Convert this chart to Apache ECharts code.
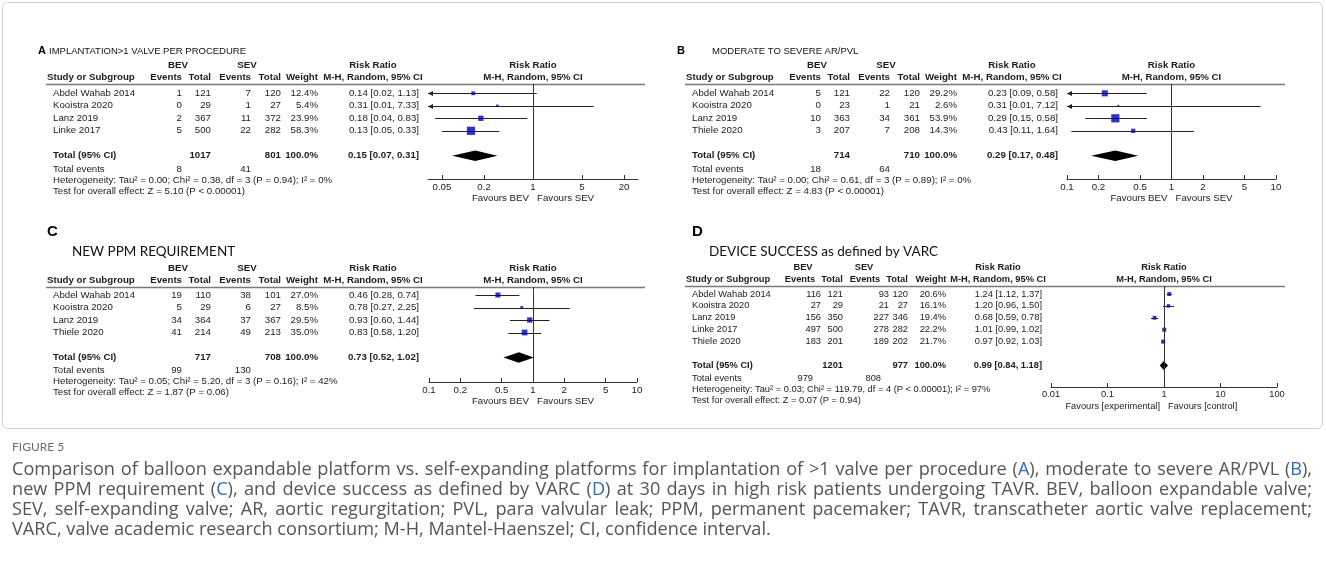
<!DOCTYPE html>
<html>
<head>
<meta charset="utf-8">
<title>Figure 5 - BEV vs SEV forest plots</title>
<script src="https://cdn.jsdelivr.net/npm/echarts@6/dist/echarts.min.js"></script>
<style>
  html, body { margin: 0; padding: 0; background: #fff; }
  #chart { width: 1326px; height: 574px; }
</style>
</head>
<body>
<div id="chart"></div>
<script>
// ---- A: implantation > 1 valve per procedure
const studiesA = ['Abdel Wahab 2014', 'Kooistra 2020', 'Lanz 2019', 'Linke 2017'];
const bevEventsA = [1, 0, 2, 5];
const bevTotalA = [121, 29, 367, 500];
const sevEventsA = [7, 1, 11, 22];
const sevTotalA = [120, 27, 372, 282];
const weightA = [12.4, 5.4, 23.9, 58.3];
const rrA = [0.14, 0.31, 0.18, 0.13];
const lowA = [0.02, 0.01, 0.04, 0.05];
const highA = [1.13, 7.33, 0.83, 0.33];
const pooledA = [0.15, 0.07, 0.31];          // RR, low, high
const sumsA = [1017, 801, 8, 41];            // BEV total, SEV total, BEV events, SEV events
const ticksA = [0.05, 0.2, 1, 5, 20];

// ---- B: moderate to severe AR/PVL
const studiesB = ['Abdel Wahab 2014', 'Kooistra 2020', 'Lanz 2019', 'Thiele 2020'];
const bevEventsB = [5, 0, 10, 3];
const bevTotalB = [121, 23, 363, 207];
const sevEventsB = [22, 1, 34, 7];
const sevTotalB = [120, 21, 361, 208];
const weightB = [29.2, 2.6, 53.9, 14.3];
const rrB = [0.23, 0.31, 0.29, 0.43];
const lowB = [0.09, 0.01, 0.15, 0.11];
const highB = [0.58, 7.12, 0.58, 1.64];
const pooledB = [0.29, 0.17, 0.48];
const sumsB = [714, 710, 18, 64];
const ticksB = [0.1, 0.2, 0.5, 1, 2, 5, 10];

// ---- C: new PPM requirement
const studiesC = ['Abdel Wahab 2014', 'Kooistra 2020', 'Lanz 2019', 'Thiele 2020'];
const bevEventsC = [19, 5, 34, 41];
const bevTotalC = [110, 29, 364, 214];
const sevEventsC = [38, 6, 37, 49];
const sevTotalC = [101, 27, 367, 213];
const weightC = [27.0, 8.5, 29.5, 35.0];
const rrC = [0.46, 0.78, 0.93, 0.83];
const lowC = [0.28, 0.27, 0.60, 0.58];
const highC = [0.74, 2.25, 1.44, 1.20];
const pooledC = [0.73, 0.52, 1.02];
const sumsC = [717, 708, 99, 130];
const ticksC = [0.1, 0.2, 0.5, 1, 2, 5, 10];

// ---- D: device success as defined by VARC
const studiesD = ['Abdel Wahab 2014', 'Kooistra 2020', 'Lanz 2019', 'Linke 2017', 'Thiele 2020'];
const bevEventsD = [116, 27, 156, 497, 183];
const bevTotalD = [121, 29, 350, 500, 201];
const sevEventsD = [93, 21, 227, 278, 189];
const sevTotalD = [120, 27, 346, 282, 202];
const weightD = [20.6, 16.1, 19.4, 22.2, 21.7];
const rrD = [1.24, 1.20, 0.68, 1.01, 0.97];
const lowD = [1.12, 0.96, 0.59, 0.99, 0.92];
const highD = [1.37, 1.50, 0.78, 1.02, 1.03];
const pooledD = [0.99, 0.84, 1.18];
const sumsD = [1201, 977, 979, 808];
const ticksD = [0.01, 0.1, 1, 10, 100];

const titles = [
  ['A', 'IMPLANTATION>1 VALVE PER PROCEDURE'],
  ['B', 'MODERATE TO SEVERE AR/PVL'],
  ['C', 'NEW PPM REQUIREMENT'],
  ['D', 'DEVICE SUCCESS as defined by VARC']
];
const hetTexts = [
  'Heterogeneity: Tau² = 0.00; Chi² = 0.38, df = 3 (P = 0.94); I² = 0%',
  'Heterogeneity: Tau² = 0.00; Chi² = 0.61, df = 3 (P = 0.89); I² = 0%',
  'Heterogeneity: Tau² = 0.05; Chi² = 5.20, df = 3 (P = 0.16); I² = 42%',
  'Heterogeneity: Tau² = 0.03; Chi² = 119.79, df = 4 (P < 0.00001); I² = 97%'
];
const testTexts = [
  'Test for overall effect: Z = 5.10 (P < 0.00001)',
  'Test for overall effect: Z = 4.83 (P < 0.00001)',
  'Test for overall effect: Z = 1.87 (P = 0.06)',
  'Test for overall effect: Z = 0.07 (P = 0.94)'
];
const favours = [
  ['Favours BEV', 'Favours SEV'],
  ['Favours BEV', 'Favours SEV'],
  ['Favours BEV', 'Favours SEV'],
  ['Favours [experimental]', 'Favours [control]']
];
const captionLines = [
  'Comparison of balloon expandable platform vs. self-expanding platforms for implantation of >1 valve per procedure ({b|A}), moderate to severe AR/PVL ({b|B}),',
  'new PPM requirement ({b|C}), and device success as defined by VARC ({b|D}) at 30 days in high risk patients undergoing TAVR. BEV, balloon expandable valve;',
  'SEV, self-expanding valve; AR, aortic regurgitation; PVL, para valvular leak; PPM, permanent pacemaker; TAVR, transcatheter aortic valve replacement;',
  'VARC, valve academic research consortium; M-H, Mantel-Haenszel; CI, confidence interval.'
];

// layout of each panel (pixels); hdr = x of the five column headings
const layouts = [
  { fs: 9.7, name: 53, ev1: 182, tot1: 211, ev2: 251, tot2: 281, wt: 318, ci: 419, hdrL: 46, hdrR: 645,
    hdr: [182, 211, 251, 281, 318], hdrAlign: 'right', mh: 373,
    plotL: 428, plotW: 210, xr: 1.5, lineY: 84, axisY: 179, row0: 93.3, rowH: 12.5, grpY: 65,
    bevX: 178, sevX: 247, sq: 1.08, dia: 5.3, evShift: 0,
    letter: [38, 51, 11, 'arial'], title: [49, 51, 9.5, 'arial'] },
  { fs: 9.7, name: 692, ev1: 821, tot1: 850, ev2: 890, tot2: 920, wt: 957, ci: 1058, hdrL: 685, hdrR: 1285,
    hdr: [821, 850, 890, 920, 957], hdrAlign: 'right', mh: 1012,
    plotL: 1067, plotW: 209, xr: 1, lineY: 84, axisY: 179, row0: 93.3, rowH: 12.5, grpY: 65,
    bevX: 817, sevX: 886, sq: 1.12, dia: 5.3, evShift: 0,
    letter: [677, 51, 11, 'arial'], title: [712, 51, 9.5, 'arial'] },
  { fs: 9.7, name: 53, ev1: 182, tot1: 211, ev2: 251, tot2: 281, wt: 318, ci: 419, hdrL: 46, hdrR: 645,
    hdr: [182, 211, 251, 281, 318], hdrAlign: 'right', mh: 373,
    plotL: 429, plotW: 208, xr: 1, lineY: 287, axisY: 382, row0: 295, rowH: 12.5, grpY: 268,
    bevX: 178, sevX: 247, sq: 0.97, dia: 5.3, evShift: 0,
    letter: [47, 232, 15, 'arial'], title: [72, 252, 13.5, 'lato'] },
  { fs: 9.3, name: 692, ev1: 821, tot1: 843, ev2: 889, tot2: 908, wt: 946, ci: 1042, hdrL: 685, hdrR: 1285,
    hdr: [800, 832, 865, 897, 931], hdrAlign: 'center', mh: 998,
    plotL: 1051, plotW: 226, xr: 2, lineY: 286, axisY: 387, row0: 294, rowH: 11.9, grpY: 267,
    bevX: 803, sevX: 864, sq: 0.86, dia: 4.5, evShift: -8,
    letter: [692, 232, 15, 'arial'], title: [709, 252, 13.5, 'lato'] }
];

const panelData = [
  { studies: studiesA, ev1: bevEventsA, tot1: bevTotalA, ev2: sevEventsA, tot2: sevTotalA, w: weightA, rr: rrA, lo: lowA, hi: highA, pooled: pooledA, sums: sumsA, ticks: ticksA },
  { studies: studiesB, ev1: bevEventsB, tot1: bevTotalB, ev2: sevEventsB, tot2: sevTotalB, w: weightB, rr: rrB, lo: lowB, hi: highB, pooled: pooledB, sums: sumsB, ticks: ticksB },
  { studies: studiesC, ev1: bevEventsC, tot1: bevTotalC, ev2: sevEventsC, tot2: sevTotalC, w: weightC, rr: rrC, lo: lowC, hi: highC, pooled: pooledC, sums: sumsC, ticks: ticksC },
  { studies: studiesD, ev1: bevEventsD, tot1: bevTotalD, ev2: sevEventsD, tot2: sevTotalD, w: weightD, rr: rrD, lo: lowD, hi: highD, pooled: pooledD, sums: sumsD, ticks: ticksD }
];

const ARIAL = '"Liberation Sans", Arial, sans-serif';
const LATO = 'Lato, "Open Sans", sans-serif';
const INK = '#1c1c1c';
const BLUE = '#0000b4';

const chart = echarts.init(document.getElementById('chart'), null, { renderer: 'canvas' });

function txt(x, y, text, align, bold, size, family, color) {
  return {
    type: 'text', silent: true,
    style: {
      x: x, y: y, text: text,
      align: align || 'left', verticalAlign: 'middle',
      textAlign: align || 'left', textVerticalAlign: 'middle',
      fill: color || INK,
      font: (bold ? 'bold ' : '') + size + 'px ' + (family || ARIAL)
    }
  };
}

function hline(x1, x2, y, color, width) {
  return { type: 'line', silent: true, shape: { x1: x1, y1: y, x2: x2, y2: y }, style: { stroke: color, lineWidth: width } };
}

// CI whiskers, clipped to the axis range with an arrow head where cut
function ciRender(xMin, xMax) {
  return function (params, api) {
    const lo = api.value(0), hi = api.value(1), row = api.value(2);
    const a = api.coord([Math.max(lo, xMin), row]);
    const b = api.coord([Math.min(hi, xMax), row]);
    const y = Math.round(a[1]) + 0.5;
    const kids = [{ type: 'line', shape: { x1: a[0], y1: y, x2: b[0], y2: y }, style: { stroke: '#222', lineWidth: 1 } }];
    if (lo < xMin) kids.push({ type: 'polygon', shape: { points: [[a[0], y], [a[0] + 5, y - 2.5], [a[0] + 5, y + 2.5]] }, style: { fill: '#222' } });
    if (hi > xMax) kids.push({ type: 'polygon', shape: { points: [[b[0], y], [b[0] - 5, y - 2.5], [b[0] - 5, y + 2.5]] }, style: { fill: '#222' } });
    return { type: 'group', children: kids };
  };
}

function diamondRender(half) {
  return function (params, api) {
    const l = api.coord([api.value(0), api.value(3)]);
    const m = api.coord([api.value(1), api.value(3)]);
    const r = api.coord([api.value(2), api.value(3)]);
    return {
      type: 'polygon',
      shape: { points: [[l[0], l[1]], [m[0], m[1] - half], [r[0], r[1]], [m[0], m[1] + half]] },
      style: { fill: '#000' }
    };
  };
}

const grids = [], xAxes = [], yAxes = [], series = [], graphics = [];

panelData.forEach(function (d, p) {
  const L = layouts[p];
  const fs = L.fs;
  const n = d.studies.length;
  const rowOf = function (i) { return L.row0 + i * L.rowH; };
  const yMin = (L.lineY - L.row0) / L.rowH;
  const yMax = (L.axisY - L.row0) / L.rowH;
  const tickVals = d.ticks.map(function (v) { return Math.log10(v); });

  grids.push({ left: L.plotL, top: L.lineY, width: L.plotW, height: L.axisY - L.lineY, outerBoundsMode: 'none' });
  xAxes.push({
    type: 'value', gridIndex: p, min: -L.xr, max: L.xr, position: 'bottom',
    axisLine: { show: true, onZero: false, lineStyle: { color: '#333', width: 1 } },
    axisTick: { show: true, inside: true, length: 4, customValues: tickVals, lineStyle: { color: '#333' } },
    axisLabel: {
      show: true, customValues: tickVals, margin: 3, color: INK, fontSize: fs, fontFamily: ARIAL,
      formatter: function (v) { return String(+Math.pow(10, v).toPrecision(2)); }
    },
    splitLine: { show: false }
  });
  yAxes.push({ type: 'value', gridIndex: p, inverse: true, min: yMin, max: yMax, show: false });

  // study squares + null line
  series.push({
    type: 'scatter', xAxisIndex: p, yAxisIndex: p, symbol: 'rect', silent: true, z: 4,
    data: d.rr.map(function (v, i) {
      const s = Math.max(1.6, Math.sqrt(d.w[i]) * L.sq);
      return { value: [Math.log10(v), i], symbolSize: [s, s] };
    }),
    itemStyle: { color: BLUE },
    markLine: {
      silent: true, symbol: ['none', 'none'], label: { show: false }, animation: false,
      lineStyle: { color: '#333', width: 1, type: 'solid' },
      data: [{ xAxis: 0 }]
    }
  });
  // confidence intervals
  series.push({
    type: 'custom', xAxisIndex: p, yAxisIndex: p, silent: true, z: 3,
    renderItem: ciRender(-L.xr, L.xr),
    encode: { x: [0, 1], y: 2 },
    data: d.lo.map(function (v, i) { return [Math.log10(v), Math.log10(d.hi[i]), i]; })
  });
  // pooled diamond
  series.push({
    type: 'custom', xAxisIndex: p, yAxisIndex: p, silent: true, z: 4,
    renderItem: diamondRender(L.dia),
    encode: { x: [0, 1, 2], y: 3 },
    data: [[Math.log10(d.pooled[1]), Math.log10(d.pooled[0]), Math.log10(d.pooled[2]), n + 1]]
  });

  // ---- table text
  const g = graphics;
  const lt = L.letter, tt = L.title;
  g.push(txt(lt[0], lt[1], titles[p][0], 'left', true, lt[2], ARIAL, '#000'));
  g.push(txt(tt[0], tt[1], titles[p][1], 'left', false, tt[2], tt[3] === 'lato' ? LATO : ARIAL, '#111'));

  const nullX = L.plotL + L.plotW / 2;
  g.push(txt(L.bevX, L.grpY, 'BEV', 'center', true, fs));
  g.push(txt(L.sevX, L.grpY, 'SEV', 'center', true, fs));
  g.push(txt(L.mh, L.grpY, 'Risk Ratio', 'center', true, fs));
  g.push(txt(nullX, L.grpY, 'Risk Ratio', 'center', true, fs));
  const hy = L.lineY - 7;
  g.push(txt(L.hdrL + 1, hy, 'Study or Subgroup', 'left', true, fs));
  ['Events', 'Total', 'Events', 'Total', 'Weight'].forEach(function (h, k) {
    g.push(txt(L.hdr[k], hy, h, L.hdrAlign, true, fs));
  });
  g.push(txt(L.mh, hy, 'M-H, Random, 95% CI', 'center', true, fs));
  g.push(txt(nullX, hy, 'M-H, Random, 95% CI', 'center', true, fs));
  g.push(hline(L.hdrL, L.hdrR, L.lineY + 0.5, '#7a7a7a', 1.6));

  d.studies.forEach(function (s, i) {
    const y = rowOf(i);
    g.push(txt(L.name, y, s, 'left', false, fs));
    g.push(txt(L.ev1, y, String(d.ev1[i]), 'right', false, fs));
    g.push(txt(L.tot1, y, String(d.tot1[i]), 'right', false, fs));
    g.push(txt(L.ev2, y, String(d.ev2[i]), 'right', false, fs));
    g.push(txt(L.tot2, y, String(d.tot2[i]), 'right', false, fs));
    g.push(txt(L.wt, y, d.w[i].toFixed(1) + '%', 'right', false, fs));
    g.push(txt(L.ci, y, d.rr[i].toFixed(2) + ' [' + d.lo[i].toFixed(2) + ', ' + d.hi[i].toFixed(2) + ']', 'right', false, fs));
  });

  const yt = rowOf(n + 1);
  g.push(txt(L.name, yt, 'Total (95% CI)', 'left', true, fs));
  g.push(txt(L.tot1, yt, String(d.sums[0]), 'right', true, fs));
  g.push(txt(L.tot2, yt, String(d.sums[1]), 'right', true, fs));
  g.push(txt(L.wt, yt, '100.0%', 'right', true, fs));
  g.push(txt(L.ci, yt, d.pooled[0].toFixed(2) + ' [' + d.pooled[1].toFixed(2) + ', ' + d.pooled[2].toFixed(2) + ']', 'right', true, fs));
  const ye = yt + 13.3;
  g.push(txt(L.name, ye, 'Total events', 'left', false, fs));
  g.push(txt(L.ev1 + L.evShift, ye, String(d.sums[2]), 'right', false, fs));
  g.push(txt(L.ev2 + L.evShift, ye, String(d.sums[3]), 'right', false, fs));
  g.push(txt(L.name, ye + 11, hetTexts[p], 'left', false, fs));
  g.push(txt(L.name, ye + 22, testTexts[p], 'left', false, fs));

  const fy = L.axisY + 19;
  g.push(txt(nullX - 4, fy, favours[p][0], 'right', false, fs));
  g.push(txt(nullX + 4, fy, favours[p][1], 'left', false, fs));
});

// frame
graphics.push({ type: 'rect', silent: true, z: -1, shape: { x: 2.5, y: 2.5, width: 1320, height: 426, r: 5 }, style: { fill: 'none', stroke: '#cfcfcf', lineWidth: 1 } });

// caption: size chosen so the first line, with ordinary spaces, nearly fills
// the text width; lines are then justified word by word (last line left as is)
const measure = document.createElement('canvas').getContext('2d');
const plain = function (s) { return s.replace(/\{b\|([^}]*)\}/g, '$1'); };
measure.font = '20px "Open Sans"';
const capSize = 20 * 1280 / measure.measureText(plain(captionLines[0])).width;
const CAP_FONT = capSize.toFixed(2) + 'px "Open Sans"';
measure.font = CAP_FONT;
graphics.push(txt(12, 447, 'FIGURE 5', 'left', false, 12, LATO, '#6b6b6b'));
captionLines.forEach(function (line, i) {
  const x0 = 12, x1 = 1312, y = 470 + i * 20;
  const words = line.split(' ');
  const widths = words.map(function (w) { return measure.measureText(plain(w)).width; });
  const sum = widths.reduce(function (a, b) { return a + b; }, 0);
  const space = measure.measureText(' ').width;
  const last = i === captionLines.length - 1;
  const gap = last ? space : Math.max(2, (x1 - x0 - sum) / (words.length - 1));
  let x = x0;
  words.forEach(function (w, k) {
    graphics.push({
      type: 'text', silent: true,
      style: {
        x: x, y: y, text: w, align: 'left', verticalAlign: 'middle', textAlign: 'left', textVerticalAlign: 'middle',
        fill: '#555', font: CAP_FONT,
        rich: { b: { fill: '#2f6db5', color: '#2f6db5', font: CAP_FONT } }
      }
    });
    x += widths[k] + gap;
  });
});

chart.setOption({
  animation: false,
  grid: grids,
  xAxis: xAxes,
  yAxis: yAxes,
  series: series,
  graphic: { elements: graphics }
});
window.addEventListener('resize', function () { chart.resize(); });
</script>
</body>
</html>
